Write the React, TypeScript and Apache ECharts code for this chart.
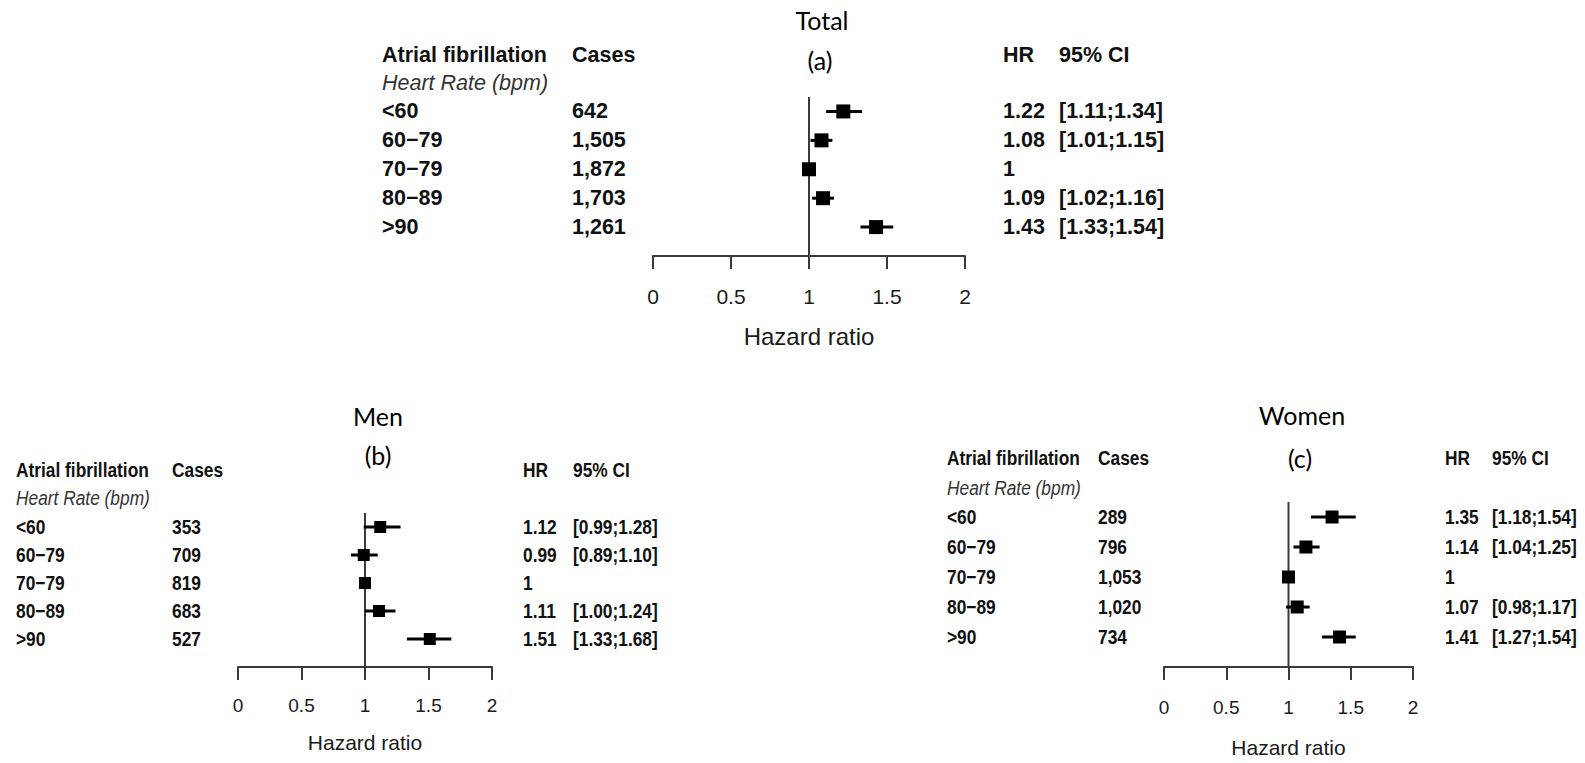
import React, { useEffect, useRef } from "react";
import * as echarts from "echarts";

// Heart-rate categories shared by every panel
const ROWS = ["<60", "60\u221279", "70\u221279", "80\u221289", ">90"];

// Total population
const TOTAL_CASES = ["642", "1,505", "1,872", "1,703", "1,261"];
const TOTAL_HR = [1.22, 1.08, 1, 1.09, 1.43];
const TOTAL_LO = [1.11, 1.01, null, 1.02, 1.33];
const TOTAL_HI = [1.34, 1.15, null, 1.16, 1.54];

// Men
const MEN_CASES = ["353", "709", "819", "683", "527"];
const MEN_HR = [1.12, 0.99, 1, 1.11, 1.51];
const MEN_LO = [0.99, 0.89, null, 1.0, 1.33];
const MEN_HI = [1.28, 1.1, null, 1.24, 1.68];

// Women
const WOMEN_CASES = ["289", "796", "1,053", "1,020", "734"];
const WOMEN_HR = [1.35, 1.14, 1, 1.07, 1.41];
const WOMEN_LO = [1.18, 1.04, null, 0.98, 1.27];
const WOMEN_HI = [1.54, 1.25, null, 1.17, 1.54];

// Hazard-ratio axis
const X_MIN = 0;
const X_MAX = 2;
const X_STEP = 0.5;
const REF_HR = 1;

const SANS = '"Liberation Sans", Arial, Helvetica, sans-serif';
const TITLE_FONT = 'Lato, "Open Sans", sans-serif';

type Panel = {
  title: string;
  tag: string;
  cases: string[];
  hr: number[];
  lo: (number | null)[];
  hi: (number | null)[];
  titleX: number; titleY: number; tagX: number; tagY: number;
  grid: { left: number; top: number; width: number; height: number };
  labelX: number; casesX: number; headY: number; subY: number;
  hrX: number; ciX: number;
  sx: number; font: number; square: number;
  tickFont: number; labelMargin: number;
  nameGap: number; nameFont: number;
};

const PANELS: Panel[] = [
  {
    title: "Total", tag: "(a)",
    cases: TOTAL_CASES, hr: TOTAL_HR, lo: TOTAL_LO, hi: TOTAL_HI,
    titleX: 822, titleY: 20, tagX: 820, tagY: 60,
    grid: { left: 653, top: 97, width: 312, height: 159 },
    labelX: 382, casesX: 572, headY: 55, subY: 83, hrX: 1003, ciX: 1059,
    sx: 1, font: 21.5, square: 14,
    tickFont: 21, labelMargin: 30, nameGap: 68, nameFont: 24,
  },
  {
    title: "Men", tag: "(b)",
    cases: MEN_CASES, hr: MEN_HR, lo: MEN_LO, hi: MEN_HI,
    titleX: 378, titleY: 416, tagX: 378, tagY: 455,
    grid: { left: 238, top: 513, width: 254, height: 154 },
    labelX: 16, casesX: 172, headY: 470, subY: 498, hrX: 523, ciX: 573,
    sx: 0.825, font: 21, square: 12,
    tickFont: 19, labelMargin: 29, nameGap: 65, nameFont: 21,
  },
  {
    title: "Women", tag: "(c)",
    cases: WOMEN_CASES, hr: WOMEN_HR, lo: WOMEN_LO, hi: WOMEN_HI,
    titleX: 1302, titleY: 415, tagX: 1300, tagY: 458,
    grid: { left: 1164, top: 502, width: 249, height: 165 },
    labelX: 947, casesX: 1098, headY: 458, subY: 488, hrX: 1445, ciX: 1492,
    sx: 0.825, font: 21, square: 13,
    tickFont: 19, labelMargin: 31, nameGap: 70, nameFont: 21,
  },
];

const fmtHR = (v: number) => (v === REF_HR ? "1" : v.toFixed(2));
const fmtCI = (lo: number | null, hi: number | null) =>
  lo == null || hi == null ? "" : `[${lo.toFixed(2)};${hi.toFixed(2)}]`;

function buildOption() {
  const grids: any[] = [];
  const xAxes: any[] = [];
  const yAxes: any[] = [];
  const series: any[] = [];

  PANELS.forEach((p, g) => {
    grids.push({ ...p.grid, containLabel: false });
    xAxes.push({
      gridIndex: g,
      type: "value",
      min: X_MIN,
      max: X_MAX,
      interval: X_STEP,
      name: "Hazard ratio",
      nameLocation: "middle",
      nameGap: p.nameGap,
      nameTextStyle: { fontSize: p.nameFont, fontFamily: SANS, color: "#1a1a1a" },
      axisLine: { show: true, lineStyle: { color: "#3a3a3a", width: 2 } },
      axisTick: { show: true, length: 13, lineStyle: { color: "#3a3a3a", width: 2 } },
      axisLabel: {
        margin: p.labelMargin,
        fontSize: p.tickFont,
        fontFamily: SANS,
        color: "#1a1a1a",
      },
      splitLine: { show: false },
    });
    yAxes.push({
      gridIndex: g,
      type: "value",
      min: 0.5,
      max: 6,
      inverse: true,
      show: false,
    });

    // vertical reference line at HR = 1
    series.push({
      type: "line",
      xAxisIndex: g,
      yAxisIndex: g,
      data: [[REF_HR, 0.5], [REF_HR, 6]],
      symbol: "none",
      lineStyle: { color: "#3a3a3a", width: 2 },
      silent: true,
      z: 1,
    });

    // confidence-interval whiskers and point estimates
    const data = p.hr.map((v, i) => [v, i + 1, p.lo[i], p.hi[i]]);
    const size = p.square;
    series.push({
      type: "custom",
      xAxisIndex: g,
      yAxisIndex: g,
      data,
      encode: { x: 0, y: 1 },
      z: 3,
      renderItem: (params: any, api: any) => {
        const hr = api.value(0);
        const row = api.value(1);
        const lo = api.value(2);
        const hi = api.value(3);
        const c = api.coord([hr, row]);
        const children: any[] = [];
        if (lo != null && !isNaN(lo) && hi != null && !isNaN(hi)) {
          const a = api.coord([lo, row]);
          const b = api.coord([hi, row]);
          children.push({
            type: "line",
            shape: { x1: a[0], y1: a[1], x2: b[0], y2: b[1] },
            style: { stroke: "#000", lineWidth: 3 },
          });
        }
        children.push({
          type: "rect",
          shape: { x: c[0] - size / 2, y: c[1] - size / 2, width: size, height: size },
          style: { fill: "#000" },
        });
        return { type: "group", children };
      },
    });
  });

  return {
    animation: false,
    backgroundColor: "#ffffff",
    grid: grids,
    xAxis: xAxes,
    yAxis: yAxes,
    series,
  };
}

function textEl(
  str: string,
  x: number,
  y: number,
  opts: { size: number; weight?: string; style?: string; family?: string; sx?: number; color?: string; align?: string }
) {
  return {
    type: "text",
    x,
    y,
    scaleX: opts.sx ?? 1,
    silent: true,
    style: {
      text: str,
      x: 0,
      y: 0,
      fill: opts.color ?? "#111",
      fontSize: opts.size,
      fontWeight: opts.weight ?? "normal",
      fontStyle: opts.style ?? "normal",
      fontFamily: opts.family ?? SANS,
      align: opts.align ?? "left",
      verticalAlign: "middle",
    },
  };
}

function buildTables(chart: echarts.ECharts) {
  const els: any[] = [];
  PANELS.forEach((p, g) => {
    const rowY = ROWS.map((_, i) => (chart.convertToPixel({ gridIndex: g } as any, [REF_HR, i + 1]) as number[])[1]);
    const bold = { size: p.font, weight: "bold", sx: p.sx };

    els.push(textEl(p.title, p.titleX, p.titleY, { size: 25, family: TITLE_FONT, align: "center", color: "#000" }));
    els.push(textEl(p.tag, p.tagX, p.tagY, { size: 25, family: TITLE_FONT, align: "center", color: "#000" }));

    els.push(textEl("Atrial fibrillation", p.labelX, p.headY, bold));
    els.push(textEl("Cases", p.casesX, p.headY, bold));
    els.push(textEl("Heart Rate (bpm)", p.labelX, p.subY, { size: p.font, style: "italic", sx: p.sx, color: "#333" }));
    els.push(textEl("HR", p.hrX, p.headY, bold));
    els.push(textEl("95% CI", p.ciX, p.headY, bold));

    ROWS.forEach((r, i) => {
      els.push(textEl(r, p.labelX, rowY[i], bold));
      els.push(textEl(p.cases[i], p.casesX, rowY[i], bold));
      els.push(textEl(fmtHR(p.hr[i]), p.hrX, rowY[i], bold));
      const ci = fmtCI(p.lo[i], p.hi[i]);
      if (ci) els.push(textEl(ci, p.ciX, rowY[i], bold));
    });
  });
  return els;
}

export default function App() {
  const ref = useRef<HTMLDivElement>(null);

  useEffect(() => {
    if (!ref.current) return;
    const chart = echarts.init(ref.current, null, { renderer: "svg" });
    chart.setOption(buildOption());
    chart.setOption({ graphic: { elements: buildTables(chart) } });
    return () => chart.dispose();
  }, []);

  return (
    <div
      ref={ref}
      style={{ position: "fixed", left: 0, top: 0, width: 1585, height: 763, background: "#fff" }}
    />
  );
}
